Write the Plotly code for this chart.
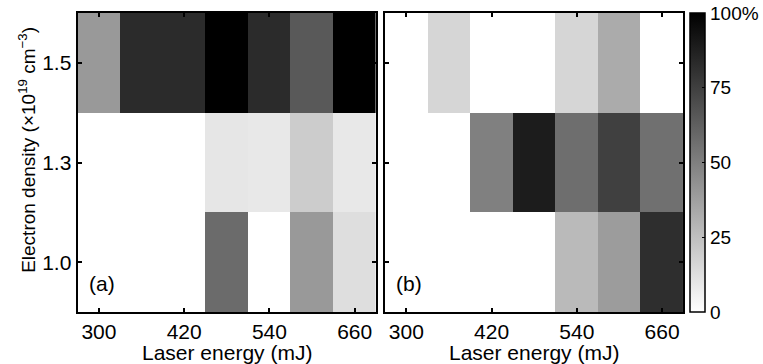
import plotly.graph_objs as go

# laser energy (mJ) and electron density (x1e19 cm^-3)
energy = [300, 360, 420, 480, 540, 600, 660]
density = ["1.0", "1.3", "1.5"]
energy_ticks = [300, 420, 540, 660]

# percentages, rows follow density order (1.0, 1.3, 1.5)
z_a = [
    [0, 0, 0, 58, 0, 40, 13],
    [0, 0, 0, 10, 9, 20, 9],
    [40, 83, 83, 100, 83, 65, 100],
]
z_b = [
    [0, 0, 0, 0, 27, 39, 82],
    [0, 0, 50, 89, 57, 75, 56],
    [0, 16, 0, 0, 16, 33, 0],
]

cbar_vals = [0, 25, 50, 75, 100]
cbar_text = ["0", "25", "50", "75", "100%"]

W, H = 763, 364
FONT = "Liberation Sans, Arial, sans-serif"
FS = 20
gray = [[0, "white"], [1, "black"]]

fig = go.Figure()
fig.add_trace(go.Heatmap(
    x=energy, y=density, z=z_a, colorscale=gray, zmin=0, zmax=100,
    showscale=False, xaxis="x", yaxis="y",
))
fig.add_trace(go.Heatmap(
    x=energy, y=density, z=z_b, colorscale=gray, zmin=0, zmax=100,
    xaxis="x2", yaxis="y2",
    colorbar=dict(
        x=694 / W, xanchor="left", xpad=0,
        y=52 / H, yanchor="bottom", ypad=0,
        thickness=15, thicknessmode="pixels",
        len=299, lenmode="pixels",
        outlinewidth=1.5, outlinecolor="black",
        tickvals=cbar_vals, ticktext=cbar_text,
        ticks="inside", ticklen=3, tickcolor="black",
        tickfont=dict(size=19, color="black", family=FONT),
    ),
))

ax_common = dict(
    showline=True, linecolor="black", linewidth=2, mirror="ticks",
    ticks="inside", ticklen=4, tickwidth=1.5, tickcolor="black",
    showgrid=False, zeroline=False, automargin=False,
    tickfont=dict(size=21, color="black", family=FONT),
)

xtitle = dict(text="Laser energy (mJ)", yref="paper", y=0, yanchor="bottom", yshift=-2,
              showarrow=False, font=dict(size=21))

fig.update_layout(
    width=W, height=H,
    margin=dict(l=0, r=0, t=0, b=0),
    paper_bgcolor="white", plot_bgcolor="white",
    font=dict(family=FONT, size=FS, color="black"),
    xaxis=dict(domain=[78 / W, 378 / W], range=[270, 690], tickvals=energy_ticks, **ax_common),
    xaxis2=dict(domain=[387 / W, 687 / W], range=[270, 690], tickvals=energy_ticks,
                anchor="y2", **ax_common),
    yaxis=dict(domain=[52 / H, 351 / H], type="category", categoryarray=density, **ax_common),
    yaxis2=dict(domain=[52 / H, 351 / H], type="category", categoryarray=density,
                anchor="x2", showticklabels=False, **ax_common),
    annotations=[
        dict(xtitle, xref="x domain", x=0.5, xanchor="center"),
        dict(xtitle, xref="x2 domain", x=0.5, xanchor="center"),
        dict(text="Electron density (×10<sup>19</sup> cm<sup>−3</sup>)",
             xref="paper", yref="paper", x=27 / W, y=(H - 150) / H,
             xanchor="center", yanchor="middle", textangle=-90,
             showarrow=False, font=dict(size=19)),
        dict(text="(a)", xref="x domain", yref="y domain", x=0.03, y=0.05,
             xanchor="left", yanchor="bottom", showarrow=False, font=dict(size=21)),
        dict(text="(b)", xref="x2 domain", yref="y2 domain", x=0.03, y=0.05,
             xanchor="left", yanchor="bottom", showarrow=False, font=dict(size=21)),
    ],
)

# drop the browser's default body margin so the figure sits at the page corner
fig.write_html("out.html", config={"displayModeBar": False},
               post_script="document.body.style.margin = '0';")
